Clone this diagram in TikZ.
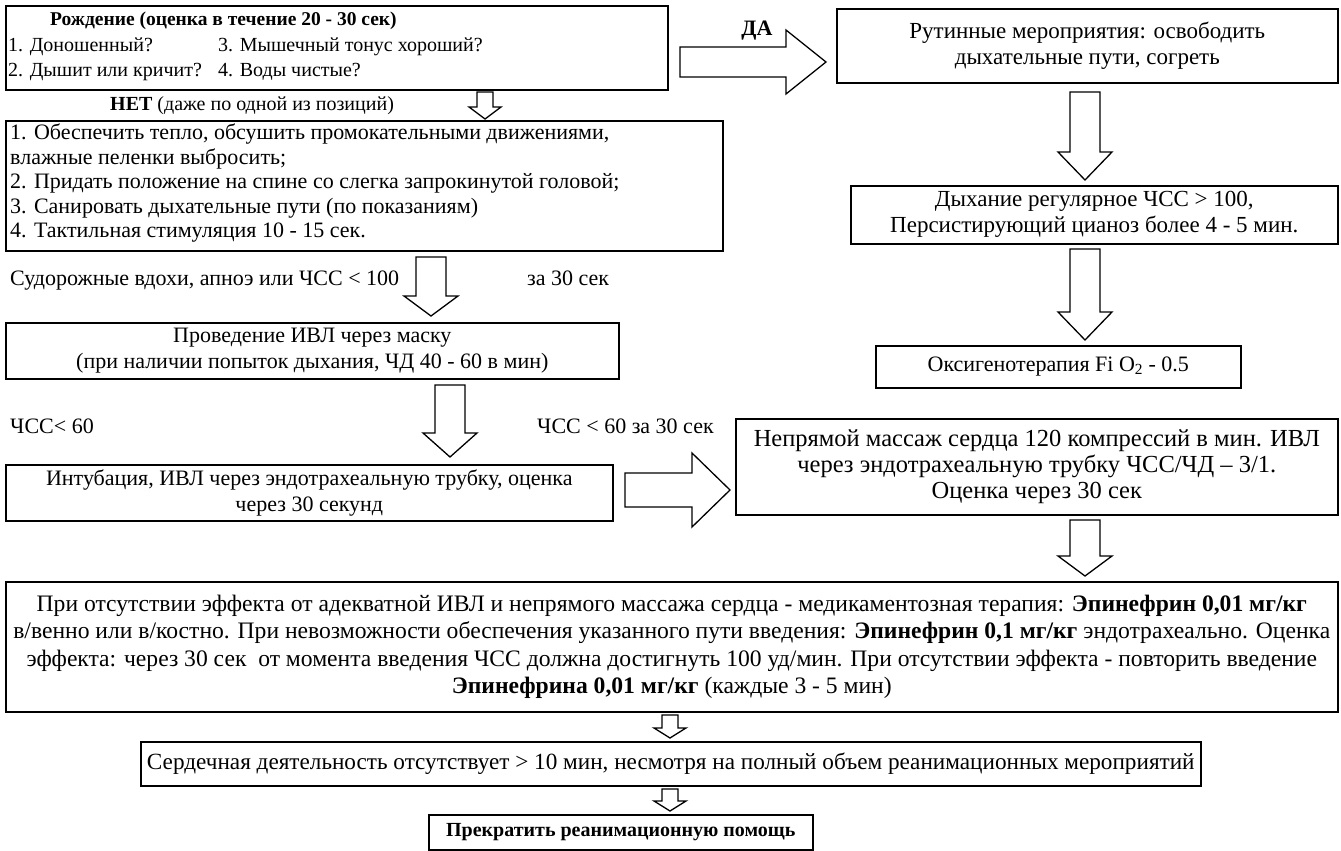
\documentclass[tikz,border=0pt]{standalone}
\usepackage{fontspec}
\setmainfont{Liberation Serif}
\begin{document}
\begin{tikzpicture}[x=1pt,y=-1pt,
  box/.style={draw, line width=1.6pt, inner sep=0pt},
  txt/.style={inner sep=0pt},
  blk/.style={draw, line width=1.3pt, fill=white, line join=miter}]
\newcommand{\fs}[1]{\fontsize{#1}{26}\selectfont}
\fs{22}
\newcommand{\DArrow}[6]{\draw[blk] (#1-#4,#2) -- (#1+#4,#2) -- (#1+#4,#3-#6) -- (#1+#5,#3-#6) -- (#1,#3) -- (#1-#5,#3-#6) -- (#1-#4,#3-#6) -- cycle;}
\newcommand{\RArrow}[6]{\draw[blk] (#1,#3-#4) -- (#2-#6,#3-#4) -- (#2-#6,#3-#5) -- (#2,#3) -- (#2-#6,#3+#5) -- (#2-#6,#3+#4) -- (#1,#3+#4) -- cycle;}
\useasboundingbox (0,0) rectangle (1341,851);
% Box 1
\node[box, anchor=north west, minimum width=662pt, minimum height=84pt] (b1) at (5,5) {};
\node[txt, anchor=mid west, font=\fs{19.5}] (b1t) at (50,20) {\textbf{Рождение (оценка в течение 20 - 30 сек)}};
\node[txt, anchor=mid west, font=\fs{20}] (b1a) at (8,46) {1. Доношенный?};
\node[txt, anchor=mid west, font=\fs{20}] (b1b) at (218,46) {3. Мышечный тонус хороший?};
\node[txt, anchor=mid west, font=\fs{20}] (b1c) at (8,71) {2. Дышит или кричит?};
\node[txt, anchor=mid west, font=\fs{20}] (b1d) at (218,71) {4. Воды чистые?};
% yes branch
\node[txt] (da) at (757,31) {\textbf{ДА}};
\RArrow{680}{826}{62}{15}{32}{40}
\node[box, anchor=north west, minimum width=501pt, minimum height=74pt, align=center, font=\fs{23}] (rut) at (836,8) {Рутинные мероприятия: освободить\\дыхательные пути, согреть};
% no branch
\node[txt, anchor=mid west, font=\fs{20}] (net) at (110,105) {\textbf{НЕТ} (даже по одной из позиций)};
\DArrow{485}{92}{119}{8}{16}{12}
\node[box, anchor=north west, minimum width=717pt, minimum height=130pt] (b2) at (5,120) {};
\node[txt, anchor=north west, align=left, font=\fontsize{22}{24.5}\selectfont] (b2t) at (10,124) {1. Обеспечить тепло, обсушить промокательными движениями,\\
влажные пеленки выбросить;\\
2. Придать положение на спине со слегка запрокинутой головой;\\
3. Санировать дыхательные пути (по показаниям)\\
4. Тактильная стимуляция 10 - 15 сек.};
\node[txt, anchor=mid west] (l1) at (10,280) {Судорожные вдохи, апноэ или ЧСС < 100};
\node[txt, anchor=mid west] (l2) at (527,280) {за 30 сек};
\DArrow{431}{257}{316}{15}{27}{20}
\node[box, anchor=north west, minimum width=613pt, minimum height=56pt, align=center] (b3) at (5,322) {Проведение ИВЛ через маску\\(при наличии попыток дыхания, ЧД 40 - 60 в мин)};
\node[txt, anchor=mid west] (l3) at (10,428) {ЧСС< 60};
\node[txt, anchor=mid west] (l4) at (537,428) {ЧСС < 60 за 30 сек};
\DArrow{450}{385}{457}{15}{27}{24}
\node[box, anchor=north west, minimum width=607pt, minimum height=56pt, align=center] (b4) at (5,464) {Интубация, ИВЛ через эндотрахеальную трубку, оценка\\через 30 секунд};
\RArrow{625}{730}{490}{17}{37}{38}
\node[box, anchor=north west, minimum width=602pt, minimum height=96pt, align=center, font=\fs{24.5}] (b5) at (735,418) {Непрямой массаж сердца 120 компрессий в мин. ИВЛ\\через эндотрахеальную трубку ЧСС/ЧД – 3/1.\\Оценка через 30 сек};
\DArrow{1085}{520}{576}{15}{27}{20}
\node[box, anchor=north west, minimum width=1332pt, minimum height=130pt, align=center, font=\fontsize{23.6}{27.5}\selectfont] (b6) at (5,581) {При отсутствии эффекта от адекватной ИВЛ и непрямого массажа сердца - медикаментозная терапия: \textbf{Эпинефрин 0,01 мг/кг}\\
в/венно или в/костно. При невозможности обеспечения указанного пути введения: \textbf{Эпинефрин 0,1 мг/кг} эндотрахеально. Оценка\\
эффекта: через 30 сек\ \ от момента введения ЧСС должна достигнуть 100 уд/мин. При отсутствии эффекта - повторить введение\\
\textbf{Эпинефрина 0,01 мг/кг} (каждые 3 - 5 мин)};
\DArrow{670}{715}{738}{8}{16}{10}
\node[box, anchor=north west, minimum width=1060pt, minimum height=44pt, font=\fs{23.2}] (b7) at (140,741) {Сердечная деятельность отсутствует > 10 мин, несмотря на полный объем реанимационных мероприятий};
\DArrow{670}{789}{811}{8}{16}{10}
\node[box, anchor=north west, minimum width=384pt, minimum height=35pt, font=\fs{20}] (b8) at (428,814) {\textbf{Прекратить реанимационную помощь}};
% right column
\DArrow{1085}{92}{180}{15}{27}{28}
\node[box, anchor=north west, minimum width=487pt, minimum height=58pt, align=center, font=\fs{23}] (r2) at (850,185) {Дыхание регулярное ЧСС > 100,\\Персистирующий цианоз более 4 - 5 мин.};
\DArrow{1085}{249}{340}{15}{27}{28}
\node[box, anchor=north west, minimum width=365pt, minimum height=42pt] (r3) at (875,345) {Оксигенотерапия Fi O\textsubscript{2} - 0.5};
\end{tikzpicture}
\end{document}
